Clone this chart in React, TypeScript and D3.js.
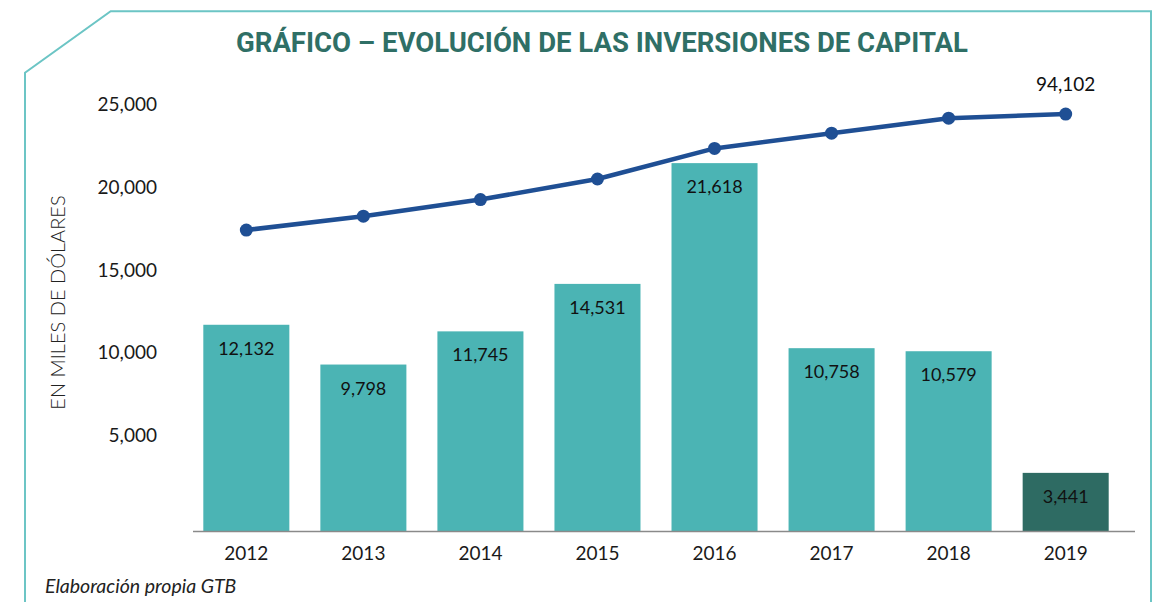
import React from 'react';
import * as d3 from 'd3';

const years = ['2012', '2013', '2014', '2015', '2016', '2017', '2018', '2019'];
const investment = [12132, 9798, 11745, 14531, 21618, 10758, 10579, 3441];
const cumulativeLine = [12132, 21930, 33675, 48206, 69824, 80582, 91161, 94102];
const yTicks = [5000, 10000, 15000, 20000, 25000];
const highlightYear = '2019';
const lineLabelYear = '2019';

const W = 1153;
const H = 602;

export default function App() {
  const x = d3.scaleBand<string>().domain(years).range([187.8, 1124.2]).paddingInner(0.265).paddingOuter(0.1325);
  const y = d3.scaleLinear().domain([0, 25000]).range([531.5, 105.5]);
  const yLabel = d3.scaleLinear().domain([0, 25000]).range([518, 104]);
  const y2 = d3.scaleLinear().domain([0, 100000]).range([247.2, 105.7]);
  const fmt = d3.format(',');
  const cx = (yr: string) => (x(yr) as number) + x.bandwidth() / 2;

  const lineGen = d3
    .line<number>()
    .x((_, i) => cx(years[i]))
    .y((d) => y2(d));

  const font = 'Lato, "Open Sans", sans-serif';
  const li = years.indexOf(lineLabelYear);

  return (
    <svg width={W} height={H} style={{ position: 'absolute', left: 0, top: 0, background: '#fff' }}>
      <rect x={0} y={0} width={W} height={H} fill="#fff" />
      <path d="M25,602 L25,72.7 L110.7,11.3 L1151,11.3 L1151,602" fill="none" stroke="#6cc5c5" strokeWidth={2} />
      <text
        x={602}
        y={51.5}
        textAnchor="middle"
        fontFamily="Roboto, sans-serif"
        fontWeight={700}
        fontSize={27}
        fill="#2f6f66"
        textLength={732}
        lengthAdjust="spacingAndGlyphs"
      >
        GRÁFICO – EVOLUCIÓN DE LAS INVERSIONES DE CAPITAL
      </text>

      <text
        transform="translate(65,302.5) rotate(-90)"
        textAnchor="middle"
        fontFamily={font}
        fontWeight={300}
        fontSize={20}
        fill="#222"
      >
        EN MILES DE DÓLARES
      </text>

      {yTicks.map((t) => (
        <text key={t} x={157} y={yLabel(t) + 7} textAnchor="end" fontFamily={font} fontSize={19} fill="#1a1a1a">
          {fmt(t)}
        </text>
      ))}

      {years.map((yr, i) => (
        <g key={yr}>
          <rect
            x={x(yr)}
            y={y(investment[i])}
            width={x.bandwidth()}
            height={y(0) - y(investment[i])}
            fill={yr === highlightYear ? '#2e6b63' : '#4bb4b4'}
          />
          <text x={cx(yr)} y={y(investment[i]) + 30} textAnchor="middle" fontFamily={font} fontSize={18} fill="#111">
            {fmt(investment[i])}
          </text>
          <text x={cx(yr)} y={560} textAnchor="middle" fontFamily={font} fontSize={19} fill="#1a1a1a">
            {yr}
          </text>
        </g>
      ))}

      <line x1={193} x2={1135} y1={y(0)} y2={y(0)} stroke="#8a8a8a" strokeWidth={1.5} />

      <path d={lineGen(cumulativeLine) || ''} fill="none" stroke="#1f4f94" strokeWidth={4.5} strokeLinejoin="round" />
      {cumulativeLine.map((v, i) => (
        <circle key={i} cx={cx(years[i])} cy={y2(v)} r={6.5} fill="#1f4f94" />
      ))}
      <text x={cx(lineLabelYear)} y={y2(cumulativeLine[li]) - 23} textAnchor="middle" fontFamily={font} fontSize={19} fill="#111">
        {fmt(cumulativeLine[li])}
      </text>

      <text x={45} y={593} fontFamily={font} fontStyle="italic" fontSize={19.5} fill="#222">
        Elaboración propia GTB
      </text>
    </svg>
  );
}
